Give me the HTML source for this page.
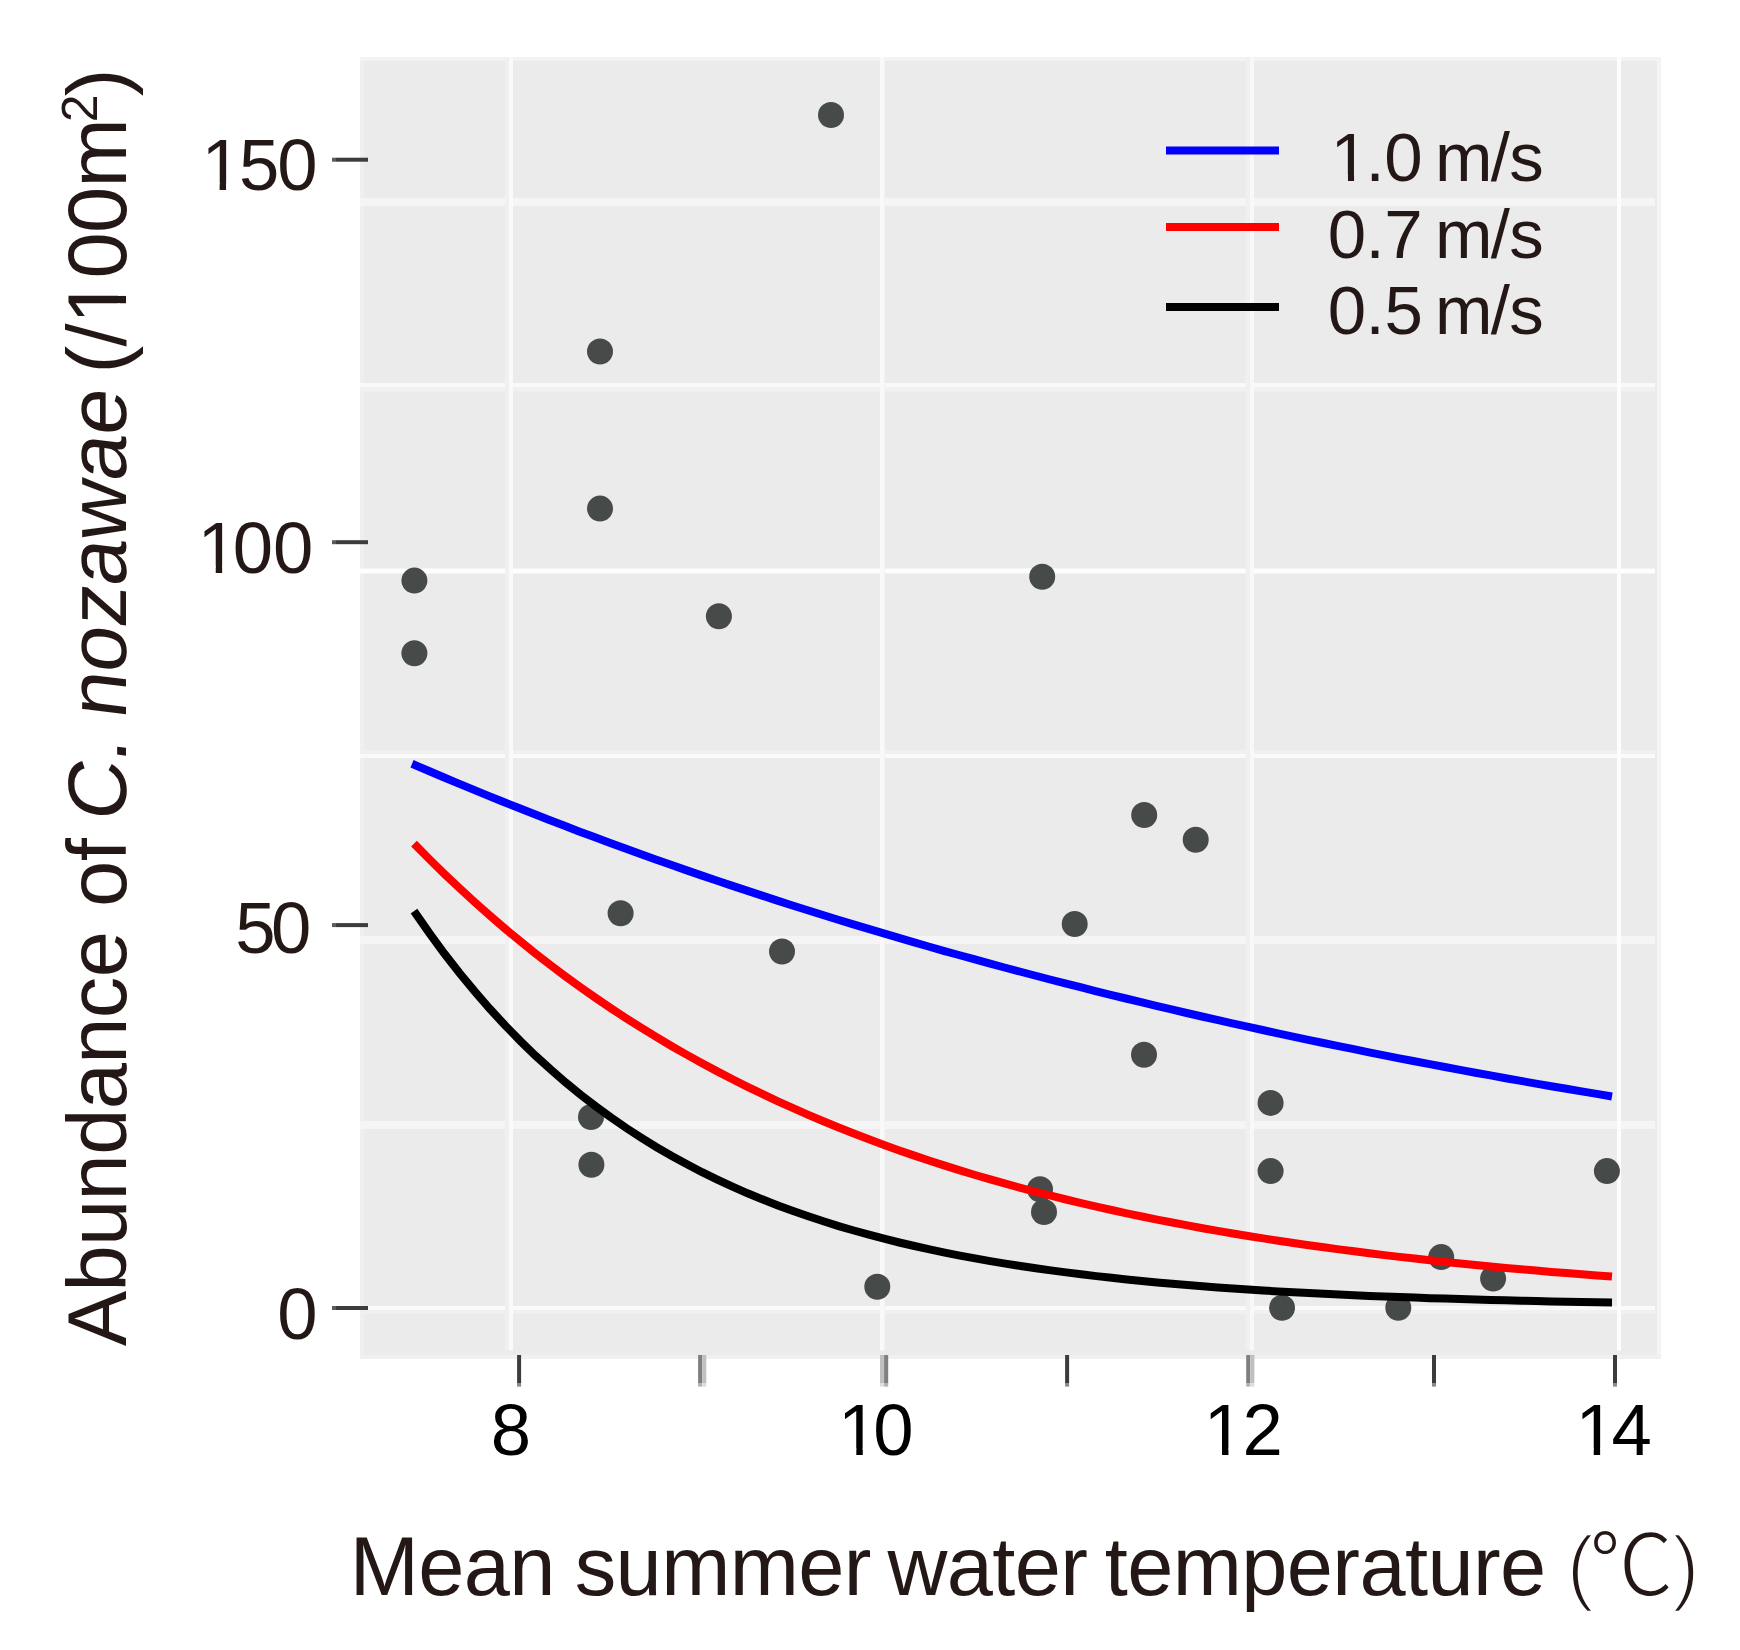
<!DOCTYPE html>
<html><head><meta charset="utf-8"><title>Abundance plot</title>
<style>
html,body{margin:0;padding:0;background:#fff;}
body{width:1740px;height:1650px;overflow:hidden;}
svg{display:block;}
text{font-family:"Liberation Sans","Noto Sans CJK JP",sans-serif;fill:#231815;}
text.k,.k text{fill:#000;}
.cjk{font-family:"Noto Sans CJK JP",sans-serif;font-weight:300;}
</style></head><body>
<svg width="1740" height="1650" viewBox="0 0 1740 1650">
<rect width="1740" height="1650" fill="#fff"/>
<rect x="360" y="57" width="1301" height="1302" fill="#ebebeb"/>
<rect x="360" y="57" width="4" height="1302" fill="#efefef"/>
<rect x="1657" y="57" width="4" height="1302" fill="#f4f4f4"/>
<rect x="360" y="1355" width="1301" height="4" fill="#f0f0f0"/>
<rect x="360" y="57" width="1301" height="4" fill="#f3f3f3"/>
<g><rect x="360" y="198" width="1295" height="8.0" fill="#f5f5f5"/>
<rect x="360" y="383" width="1295" height="4.0" fill="#f9f9f9"/>
<rect x="360" y="387" width="1295" height="4.5" fill="#f1f1f1"/>
<rect x="360" y="569" width="1295" height="4.0" fill="#fefefe"/>
<rect x="360" y="568.3" width="1295" height="0.7" fill="#f6f6f6"/>
<rect x="360" y="573" width="1295" height="0.7" fill="#f6f6f6"/>
<rect x="360" y="750" width="1295" height="4.0" fill="#f0f0f0"/>
<rect x="360" y="754" width="1295" height="4.0" fill="#fafafa"/>
<rect x="360" y="936" width="1295" height="8.0" fill="#f5f5f5"/>
<rect x="360" y="1121" width="1295" height="8.0" fill="#f5f5f5"/>
<rect x="360" y="1306" width="1295" height="4.0" fill="#fafafa"/>
<rect x="360" y="1310" width="1295" height="4.0" fill="#f0f0f0"/></g>
<g><rect x="505" y="57" width="4.0" height="1293.5" fill="#f0f0f0"/>
<rect x="509" y="57" width="4.0" height="1293.5" fill="#fafafa"/>
<rect x="880" y="57" width="4.0" height="1293.5" fill="#f9f9f9"/>
<rect x="884" y="57" width="1.0" height="1293.5" fill="#f2f2f2"/>
<rect x="1245.5" y="57" width="4.5" height="1293.5" fill="#f0f0f0"/>
<rect x="1250" y="57" width="4.0" height="1293.5" fill="#f8f8f8"/>
<rect x="1617" y="57" width="4.0" height="1293.5" fill="#fdfdfd"/></g>
<g fill="#464a49"><circle cx="831" cy="115" r="13"/>
<circle cx="600" cy="351.5" r="13"/>
<circle cx="600" cy="508.6" r="13"/>
<circle cx="414.4" cy="580.6" r="13"/>
<circle cx="414.4" cy="653.3" r="13"/>
<circle cx="718.9" cy="616.2" r="13"/>
<circle cx="1042.2" cy="576.7" r="13"/>
<circle cx="1144.2" cy="815" r="13"/>
<circle cx="1195.7" cy="839.8" r="13"/>
<circle cx="620.6" cy="913.3" r="13"/>
<circle cx="782" cy="951.5" r="13"/>
<circle cx="1074.7" cy="924" r="13"/>
<circle cx="1144" cy="1054.7" r="13"/>
<circle cx="1270.6" cy="1102.9" r="13"/>
<circle cx="591" cy="1117" r="13"/>
<circle cx="591.4" cy="1164.8" r="13"/>
<circle cx="1270.6" cy="1171.1" r="13"/>
<circle cx="1606.9" cy="1171.1" r="13"/>
<circle cx="1040" cy="1189.3" r="13"/>
<circle cx="1044" cy="1212" r="13"/>
<circle cx="877.3" cy="1286.7" r="13"/>
<circle cx="1441.2" cy="1257.1" r="13"/>
<circle cx="1493.1" cy="1278.6" r="13"/>
<circle cx="1282" cy="1307.7" r="13"/>
<circle cx="1398.3" cy="1307.7" r="13"/></g>
<g fill="none" stroke-width="8">
<path d="M412.0,763.8 L427.2,770.3 L442.4,776.8 L457.6,783.1 L472.8,789.4 L487.9,795.6 L503.1,801.8 L518.3,807.8 L533.5,813.8 L548.7,819.7 L563.9,825.6 L579.1,831.4 L594.3,837.1 L609.5,842.7 L624.7,848.3 L639.8,853.8 L655.0,859.2 L670.2,864.6 L685.4,869.9 L700.6,875.1 L715.8,880.3 L731.0,885.4 L746.2,890.4 L761.4,895.4 L776.6,900.4 L791.7,905.2 L806.9,910.0 L822.1,914.8 L837.3,919.5 L852.5,924.1 L867.7,928.7 L882.9,933.2 L898.1,937.7 L913.3,942.1 L928.5,946.5 L943.6,950.8 L958.8,955.0 L974.0,959.2 L989.2,963.4 L1004.4,967.5 L1019.6,971.5 L1034.8,975.5 L1050.0,979.5 L1065.2,983.4 L1080.4,987.2 L1095.5,991.1 L1110.7,994.8 L1125.9,998.5 L1141.1,1002.2 L1156.3,1005.8 L1171.5,1009.4 L1186.7,1013.0 L1201.9,1016.5 L1217.1,1019.9 L1232.3,1023.3 L1247.4,1026.7 L1262.6,1030.0 L1277.8,1033.3 L1293.0,1036.6 L1308.2,1039.8 L1323.4,1043.0 L1338.6,1046.1 L1353.8,1049.2 L1369.0,1052.3 L1384.2,1055.3 L1399.3,1058.3 L1414.5,1061.2 L1429.7,1064.1 L1444.9,1067.0 L1460.1,1069.9 L1475.3,1072.7 L1490.5,1075.4 L1505.7,1078.2 L1520.9,1080.9 L1536.1,1083.6 L1551.2,1086.2 L1566.4,1088.8 L1581.6,1091.4 L1596.8,1093.9 L1612.0,1096.5" stroke="#0000ff"/>
<path d="M414.0,843.6 L429.2,859.0 L444.3,873.8 L459.5,888.2 L474.7,902.1 L489.8,915.6 L505.0,928.6 L520.2,941.2 L535.3,953.3 L550.5,965.1 L565.6,976.5 L580.8,987.5 L596.0,998.1 L611.1,1008.4 L626.3,1018.3 L641.5,1027.9 L656.6,1037.2 L671.8,1046.2 L687.0,1054.9 L702.1,1063.3 L717.3,1071.4 L732.5,1079.3 L747.6,1086.9 L762.8,1094.2 L777.9,1101.4 L793.1,1108.2 L808.3,1114.9 L823.4,1121.3 L838.6,1127.5 L853.8,1133.5 L868.9,1139.3 L884.1,1144.9 L899.3,1150.4 L914.4,1155.6 L929.6,1160.7 L944.8,1165.6 L959.9,1170.4 L975.1,1175.0 L990.3,1179.4 L1005.4,1183.7 L1020.6,1187.8 L1035.7,1191.9 L1050.9,1195.7 L1066.1,1199.5 L1081.2,1203.1 L1096.4,1206.6 L1111.6,1210.0 L1126.7,1213.3 L1141.9,1216.5 L1157.1,1219.6 L1172.2,1222.5 L1187.4,1225.4 L1202.6,1228.2 L1217.7,1230.9 L1232.9,1233.5 L1248.1,1236.0 L1263.2,1238.4 L1278.4,1240.7 L1293.5,1243.0 L1308.7,1245.2 L1323.9,1247.3 L1339.0,1249.4 L1354.2,1251.3 L1369.4,1253.3 L1384.5,1255.1 L1399.7,1256.9 L1414.9,1258.6 L1430.0,1260.3 L1445.2,1261.9 L1460.4,1263.5 L1475.5,1265.0 L1490.7,1266.5 L1505.8,1267.9 L1521.0,1269.3 L1536.2,1270.6 L1551.3,1271.9 L1566.5,1273.1 L1581.7,1274.3 L1596.8,1275.5 L1612.0,1276.6" stroke="#ff0000"/>
<path d="M414.0,911.1 L429.2,932.9 L444.3,953.5 L459.5,973.0 L474.7,991.4 L489.8,1008.8 L505.0,1025.3 L520.2,1040.8 L535.3,1055.5 L550.5,1069.3 L565.6,1082.4 L580.8,1094.8 L596.0,1106.5 L611.1,1117.5 L626.3,1128.0 L641.5,1137.8 L656.6,1147.2 L671.8,1156.0 L687.0,1164.3 L702.1,1172.2 L717.3,1179.6 L732.5,1186.6 L747.6,1193.3 L762.8,1199.5 L777.9,1205.4 L793.1,1211.0 L808.3,1216.3 L823.4,1221.3 L838.6,1226.1 L853.8,1230.5 L868.9,1234.7 L884.1,1238.7 L899.3,1242.5 L914.4,1246.0 L929.6,1249.4 L944.8,1252.6 L959.9,1255.6 L975.1,1258.4 L990.3,1261.1 L1005.4,1263.6 L1020.6,1266.0 L1035.7,1268.3 L1050.9,1270.4 L1066.1,1272.4 L1081.2,1274.3 L1096.4,1276.1 L1111.6,1277.8 L1126.7,1279.4 L1141.9,1281.0 L1157.1,1282.4 L1172.2,1283.8 L1187.4,1285.0 L1202.6,1286.3 L1217.7,1287.4 L1232.9,1288.5 L1248.1,1289.5 L1263.2,1290.5 L1278.4,1291.4 L1293.5,1292.2 L1308.7,1293.1 L1323.9,1293.8 L1339.0,1294.6 L1354.2,1295.2 L1369.4,1295.9 L1384.5,1296.5 L1399.7,1297.1 L1414.9,1297.6 L1430.0,1298.2 L1445.2,1298.6 L1460.4,1299.1 L1475.5,1299.5 L1490.7,1300.0 L1505.8,1300.3 L1521.0,1300.7 L1536.2,1301.1 L1551.3,1301.4 L1566.5,1301.7 L1581.7,1302.0 L1596.8,1302.3 L1612.0,1302.5" stroke="#000"/>
</g>
<g><rect x="336" y="157.7" width="32" height="4" fill="#3c3c3c"/><rect x="332" y="157.7" width="4" height="4" fill="#5c5c5c"/>
<rect x="336" y="540.2" width="32" height="4" fill="#3c3c3c"/><rect x="332" y="540.2" width="4" height="4" fill="#5c5c5c"/>
<rect x="336" y="923.1" width="32" height="4" fill="#3c3c3c"/><rect x="332" y="923.1" width="4" height="4" fill="#5c5c5c"/>
<rect x="336" y="1306" width="32" height="4" fill="#3c3c3c"/><rect x="332" y="1306" width="4" height="4" fill="#5c5c5c"/><rect x="517.1" y="1355" width="4" height="28" fill="#3c3c3c"/><rect x="517.1" y="1383" width="4" height="3.6" fill="#8a8a8a"/>
<rect x="698.1" y="1355" width="4.1" height="28" fill="#7f7f7f"/><rect x="702.2" y="1355" width="4.1" height="28" fill="#c0c0c0"/><rect x="698.1" y="1383" width="4.1" height="3.6" fill="#b2b2b2"/><rect x="702.2" y="1383" width="4.1" height="3.6" fill="#dedede"/>
<rect x="880" y="1355" width="4.1" height="28" fill="#c0c0c0"/><rect x="884.1" y="1355" width="4.1" height="28" fill="#808080"/><rect x="880" y="1383" width="4.1" height="3.6" fill="#dedede"/><rect x="884.1" y="1383" width="4.1" height="3.6" fill="#b2b2b2"/>
<rect x="1065.1" y="1355" width="4" height="28" fill="#3c3c3c"/><rect x="1065.1" y="1383" width="4" height="3.6" fill="#8a8a8a"/>
<rect x="1246.2" y="1355" width="4.1" height="28" fill="#7f7f7f"/><rect x="1250.3" y="1355" width="4.1" height="28" fill="#c0c0c0"/><rect x="1246.2" y="1383" width="4.1" height="3.6" fill="#b2b2b2"/><rect x="1250.3" y="1383" width="4.1" height="3.6" fill="#dedede"/>
<rect x="1432" y="1355" width="4" height="28" fill="#3c3c3c"/><rect x="1432" y="1383" width="4" height="3.6" fill="#8a8a8a"/>
<rect x="1613" y="1355" width="4" height="28" fill="#3c3c3c"/><rect x="1613" y="1383" width="4" height="3.6" fill="#8a8a8a"/></g>
<g font-size="72.5">
<text x="201.4 238.9 277.3" y="190">150</text>
<text x="197.5 232.8 273.0" y="572.5">100</text>
<text x="235.2 271.0" y="952.5">50</text>
<text x="277.3" y="1339">0</text>
</g>
<g font-size="72.5" class="k">
<text x="490.8" y="1455">8</text>
<text x="838.1 873.2" y="1455">10</text>
<text x="1203.8 1242.4" y="1455">12</text>
<text x="1575.5 1611.4" y="1455">14</text>
</g>
<g stroke-width="8">
<line x1="1166" y1="150.5" x2="1279" y2="150.5" stroke="#0000ff"/>
<line x1="1166" y1="227" x2="1279" y2="227" stroke="#ff0000"/>
<line x1="1166" y1="307" x2="1279" y2="307" stroke="#000"/>
</g>
<g font-size="69">
<text x="1330.6 1365.6 1384.3 1392.3 1435.0 1490.8 1509.2" y="181">1.0 m/s</text>
<text x="1327.7 1365.6 1384.3 1392.3 1435.0 1490.8 1509.2" y="257.5">0.7 m/s</text>
<text x="1327.7 1365.6 1384.4 1392.4 1435.0 1490.8 1509.2" y="333.5">0.5 m/s</text>
</g>
<text y="1595" font-size="83" text-anchor="middle" letter-spacing="-0.6"><tspan x="463.480029296875">Mean </tspan><tspan x="734.030029296875">summer </tspan><tspan x="998.630029296875">water </tspan><tspan x="1336.3800292968751">temperature </tspan><tspan x="1580" stroke="#fff" stroke-width="2.6">(</tspan><tspan x="1631" class="cjk" font-size="84">℃</tspan><tspan x="1685.5" stroke="#fff" stroke-width="2.6">)</tspan></text>
<g transform="rotate(-90)" font-size="83" text-anchor="middle" letter-spacing="-0.6">
<text y="125.5"><tspan x="-1127.769970703125">Abundance </tspan><tspan x="-872.9">of</tspan></text>
<text transform="translate(0 125.5) skewX(-7)"><tspan x="-770.469970703125">C. </tspan><tspan x="-556">nozawae</tspan></text>
<text y="125.5"><tspan x="-246.25">(/100m</tspan><tspan x="-108.7" font-size="50" dy="-29">2</tspan><tspan x="-82.7" dy="29">)</tspan></text>
</g>
<g transform="matrix(1 0 0 1 0 0)"><rect x="204.92" y="183.28" width="14.71" height="8.22" fill="#fff"/>
<rect x="226.04" y="183.28" width="14.14" height="8.22" fill="#fff"/></g>
<g transform="matrix(1 0 0 1 0 0)"><rect x="201.02" y="565.78" width="14.71" height="8.22" fill="#fff"/>
<rect x="222.14" y="565.78" width="14.14" height="8.22" fill="#fff"/></g>
<g transform="matrix(1 0 0 1 0 0)"><rect x="841.62" y="1448.28" width="14.71" height="8.22" fill="#fff"/>
<rect x="862.74" y="1448.28" width="14.14" height="8.22" fill="#fff"/></g>
<g transform="matrix(1 0 0 1 0 0)"><rect x="1207.32" y="1448.28" width="14.71" height="8.22" fill="#fff"/>
<rect x="1228.44" y="1448.28" width="14.14" height="8.22" fill="#fff"/></g>
<g transform="matrix(1 0 0 1 0 0)"><rect x="1579.02" y="1448.28" width="14.71" height="8.22" fill="#fff"/>
<rect x="1600.14" y="1448.28" width="14.14" height="8.22" fill="#fff"/></g>
<g transform="matrix(1 0 0 1 0 0)"><rect x="1333.86" y="174.55" width="14.10" height="7.95" fill="#ebebeb"/>
<rect x="1354.05" y="174.55" width="13.56" height="7.95" fill="#ebebeb"/></g>
<g transform="matrix(0 -1 1 0 0 0)"><rect x="-319.81" y="118.00" width="16.55" height="9.00" fill="#fff"/>
<rect x="-295.93" y="118.00" width="15.90" height="9.00" fill="#fff"/></g>
</svg>
</body></html>
